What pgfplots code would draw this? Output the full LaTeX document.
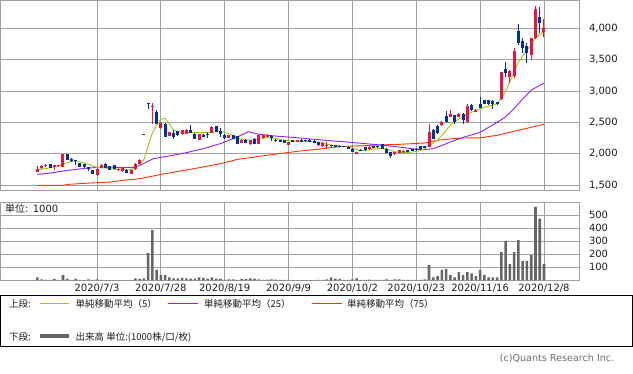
\documentclass[border=0pt]{standalone}
\usepackage{fontspec}
\setmainfont{DejaVu Sans}
\newfontfamily\jp{Noto Sans CJK JP}
\usepackage{pgfplots}
\usepackage{pgfplotstable}
\pgfplotsset{compat=1.18}
\definecolor{cred}{RGB}{235,20,65}
\definecolor{cblue}{RGB}{0,51,153}
\definecolor{maf}{RGB}{153,204,0}
\definecolor{mam}{RGB}{150,30,240}
\definecolor{mas}{RGB}{255,51,0}
\definecolor{volc}{RGB}{102,102,102}
\definecolor{gridc}{RGB}{160,160,160}
\definecolor{txtc}{RGB}{30,30,30}
\definecolor{copyc}{RGB}{110,110,110}

% up candles (close >= open): index open high low close
\pgfplotstableread{
i O H L C
0 1710 1810 1700 1755
1 1776 1815 1760 1802
2 1803 1830 1795 1818
4 1786 1820 1733 1813
5 1798 1815 1790 1812
6 1786 1995 1780 1989
14 1653 1765 1650 1760
15 1770 1830 1765 1824
19 1733 1770 1725 1760
20 1722 1775 1715 1770
22 1680 1740 1670 1738
23 1750 1850 1745 1835
24 1840 1915 1835 1905
27 2740 2816 2480 2756
29 2410 2500 2400 2496
31 2280 2350 2275 2346
34 2309 2380 2300 2373
35 2320 2390 2315 2384
38 2224 2320 2220 2309
41 2330 2440 2325 2426
45 2256 2300 2250 2293
48 2170 2230 2165 2224
50 2149 2220 2140 2213
52 2160 2305 2155 2298
53 2256 2300 2250 2293
54 2266 2310 2260 2304
59 2144 2190 2140 2186
61 2186 2220 2180 2213
67 2117 2180 2110 2170
68 2120 2187 2080 2140
75 2000 2030 1990 2026
78 2070 2115 2065 2106
84 1990 2030 1985 2026
85 2010 2060 2005 2053
86 2020 2065 2010 2048
92 2106 2480 2100 2346
95 2453 2520 2440 2506
97 2586 2690 2580 2640
99 2586 2650 2580 2640
101 2506 2790 2490 2757
103 2666 2720 2660 2704
109 2870 3310 2860 3300
111 3226 3330 3120 3317
112 3237 3690 3200 3642
116 3573 3850 3493 3840
117 3840 4357 3830 4304
119 3946 4144 3856 4000
}\upc

% down candles (close < open)
\pgfplotstableread{
i O H L C
3 1829 1835 1765 1770
7 1989 2000 1895 1904
8 1920 1925 1870 1877
9 1893 1900 1813 1877
10 1845 1850 1780 1786
11 1835 1840 1770 1786
12 1786 1790 1730 1750
13 1733 1745 1670 1680
16 1840 1850 1770 1776
17 1797 1800 1735 1744
18 1813 1815 1750 1760
21 1744 1760 1685 1696
25 2318 2318 2302 2302
26 2808 2808 2720 2792
28 2666 2690 2470 2480
30 2480 2490 2260 2266
32 2330 2373 2240 2266
33 2357 2365 2285 2293
36 2373 2453 2325 2330
37 2320 2325 2230 2240
39 2304 2310 2260 2266
40 2320 2346 2256 2293
42 2437 2445 2340 2346
43 2357 2410 2266 2320
44 2304 2310 2240 2256
46 2293 2300 2235 2240
47 2277 2285 2150 2160
49 2224 2230 2165 2170
51 2240 2250 2155 2160
55 2277 2304 2203 2250
56 2224 2230 2186 2203
57 2213 2220 2180 2192
58 2213 2220 2165 2170
60 2213 2220 2180 2186
62 2224 2235 2180 2186
63 2213 2220 2190 2197
64 2224 2230 2180 2186
65 2203 2210 2165 2170
66 2186 2190 2125 2133
69 2133 2140 2110 2117
70 2133 2140 2100 2106
71 2128 2135 2100 2106
72 2122 2125 2105 2108
73 2106 2115 2075 2080
74 2080 2090 2020 2027
76 2064 2070 2035 2043
77 2106 2110 2050 2053
79 2123 2130 2090 2096
80 2120 2125 2095 2100
81 2150 2155 2075 2080
82 2080 2085 2010 2016
83 2026 2030 1935 1957
87 2053 2060 2020 2026
88 2070 2075 2040 2043
89 2080 2085 2050 2053
90 2117 2120 2065 2070
91 2117 2120 2090 2096
93 2373 2390 2230 2240
94 2437 2450 2320 2330
96 2597 2680 2500 2506
98 2613 2620 2480 2506
100 2640 2650 2480 2544
102 2773 2790 2680 2693
104 2789 2906 2730 2736
105 2853 2860 2790 2800
106 2853 2860 2770 2800
107 2842 2850 2720 2789
108 2826 2830 2780 2789
110 3349 3466 3226 3290
113 3962 4069 3733 3760
114 3792 3840 3600 3680
115 3717 3760 3440 3600
118 4186 4336 3920 4080
}\dnc

\pgfplotstableread{
i v
0 23
1 8
2 3
3 3
4 10
5 3
6 39
7 10
8 3
9 10
10 3
11 2
12 8
13 3
14 8
15 3
16 2
17 2
18 2
19 2
20 2
21 2
22 3
23 15
24 10
25 15
26 209
27 385
28 80
29 39
30 39
31 23
32 15
33 15
34 18
35 15
36 13
37 13
38 23
39 18
40 13
41 23
42 13
43 10
44 3
45 8
46 8
47 3
48 10
49 10
50 15
51 10
52 8
53 3
54 5
55 8
56 5
57 3
58 3
59 2
60 2
61 2
62 2
63 2
64 2
65 2
66 3
67 3
68 8
69 23
70 13
71 10
72 3
73 3
74 8
75 15
76 3
77 3
78 5
79 3
80 3
81 3
82 8
83 3
84 8
85 8
86 3
87 3
88 3
89 3
90 3
91 8
92 118
93 23
94 33
95 80
96 88
97 39
98 23
99 62
100 41
101 62
102 54
103 33
104 80
105 41
106 23
107 23
108 23
109 219
110 304
111 124
112 219
113 309
114 149
115 149
116 196
117 564
118 474
119 124
}\vol

\pgfplotstableread{
i m
0 1744
2 1762
4 1790
6 1830
8 1878
9.5 1880
11.5 1840
14 1780
16 1770
18 1752
20 1740
22 1745
23 1770
24 1830
25 1900
26 2120
27 2330
28 2460
29 2550
30 2560
31 2470
32 2373
34 2336
36.5 2336
41 2336
43 2357
45 2320
47.5 2240
50 2213
52 2230
54 2256
56 2240
58 2213
60 2200
62 2200
64 2195
66 2185
68 2150
70 2130
72 2115
74 2090
76 2050
78 2060
80 2085
82 2075
84 2030
86 2015
88 2025
90 2050
91 2080
92 2130
93 2170
94 2220
95 2290
96 2370
97 2450
98 2510
99 2550
100 2590
101 2630
102 2660
103 2690
104 2715
105 2740
106 2760
107 2775
108 2800
109 2880
110 3000
111 3150
112 3300
113 3460
114 3560
115 3650
116 3740
117 3850
118 3900
119 3950
}\mafive

\pgfplotstableread{
i m
0 1669
3 1690
7 1733
11 1765
15 1786
19.4 1780
22.5 1778
24.1 1813
27.2 1920
30.4 1957
35 2016
39 2080
43 2160
47 2266
49.5 2350
52 2309
56 2280
60 2260
64 2235
68 2210
72 2190
77 2160
81 2135
85 2106
89 2070
91 2064
93 2080
95 2130
97 2186
100 2260
102 2300
104 2340
106 2420
108 2500
110 2586
112 2720
113 2800
115 2940
116 3013
118 3090
119 3125
}\matwf

\pgfplotstableread{
i m
0 1493
6 1493
7 1509
12 1530
17 1546
20 1573
24 1600
26 1626
29 1669
33.5 1722
38 1776
43 1840
47 1909
50 1936
54 1975
58 2010
62 2045
66 2070
69 2100
73 2118
77 2128
81 2140
85 2149
91 2170
94 2213
97 2235
100 2250
104 2252
108 2293
111 2340
113 2373
116 2420
119 2470
}\masvf

\pgfplotsset{
  chartbase/.style={
    scale only axis, width=579.3pt,
    xmin=-8.79, xmax=127.3,
    xtick={14,29,44,59,74,89,104,119},
    grid=major,
    major grid style={draw=gridc, line width=0.9pt},
    axis line style={draw=gridc, line width=0.9pt},
    major tick length=0pt,
    yticklabel pos=right,
    tick label style={font=\fontsize{10}{12}\selectfont, text=txtc},
    yticklabel style={anchor=west, inner sep=0pt, xshift=9.5pt},
    /pgf/number format/1000 sep={,},
    /pgf/number format/assume math mode=true,
  },
  candle/.style={mark=none, draw=none, error bars/.cd, y dir=plus, y explicit, error mark=none,
    error bar style={draw=#1}},
}

\begin{document}
\begin{tikzpicture}
\useasboundingbox (0,0) rectangle (633pt,-374pt);
\fill[white] (0,0) rectangle (633pt,-374pt);

% ---------- price panel ----------
\begin{axis}[chartbase,
  at={(0pt,-0.5pt)}, anchor=north west, height=190.2pt,
  ymin=1409, ymax=4443.5,
  ytick={1500,2000,2500,3000,3500,4000},
  xticklabels={},
]
\addplot[mas, line width=0.9pt, mark=none] table[x=i,y=m]{\masvf};
\addplot[mam, line width=0.9pt, mark=none] table[x=i,y=m]{\matwf};
\addplot[maf, line width=0.9pt, mark=none] table[x=i,y=m]{\mafive};
% wicks
\addplot[candle={cred, line width=1pt}]
  table[x=i, y=L, y error expr=\thisrow{H}-\thisrow{L}]{\upc};
\addplot[candle={cblue, line width=1pt}]
  table[x=i, y=L, y error expr=\thisrow{H}-\thisrow{L}]{\dnc};
% bodies
\addplot[candle={cred, line width=3pt}]
  table[x=i, y=O, y error expr=\thisrow{C}-\thisrow{O}]{\upc};
\addplot[candle={cblue, line width=3pt}]
  table[x=i, y=C, y error expr=\thisrow{O}-\thisrow{C}]{\dnc};
\end{axis}

% ---------- volume panel ----------
\begin{axis}[chartbase,
  at={(0pt,-202pt)}, anchor=north west, height=78.3pt,
  ymin=0, ymax=602,
  ytick={100,200,300,400,500},
  xticklabels={2020/7/3,2020/7/28,2020/8/19,2020/9/9,2020/10/2,2020/10/23,2020/11/16,2020/12/8},
  xticklabel style={anchor=base, inner sep=0pt, yshift=-11.6pt},
]
\addplot[ybar, bar width=2.6pt, fill=volc, draw=none] table[x=i,y=v]{\vol};
\end{axis}

\node[anchor=west, inner sep=0pt, text=txtc, font=\fontsize{10}{12}\selectfont] at (5pt,-209pt) {{\jp 単位}: 1000};

% ---------- legend ----------
\draw[black, line width=0.9pt] (0.5pt,-295.5pt) rectangle (632.5pt,-346pt);
\begin{scope}[every node/.style={anchor=west, inner sep=0pt, text=txtc, font=\jp\fontsize{9.5}{11}\selectfont}]
\node at (9pt,-304pt) {上段:};
\draw[maf, line width=1pt] (40pt,-304pt) -- (69pt,-304pt);
\node at (75.5pt,-304pt) {単純移動平均（5）};
\draw[mam, line width=1pt] (167.5pt,-304pt) -- (198pt,-304pt);
\node at (204pt,-304pt) {単純移動平均（25）};
\draw[mas, line width=1pt] (312pt,-304pt) -- (342pt,-304pt);
\node at (347pt,-304pt) {単純移動平均（75）};
\node at (9pt,-337pt) {下段:};
\draw[volc, line width=4pt] (40pt,-336.5pt) -- (69pt,-336.5pt);
\node at (75.5pt,-337pt) {出来高 単位:(1000株/口/枚)};
\end{scope}
\node[anchor=east, inner sep=0pt, text=copyc, font=\fontsize{9.6}{11}\selectfont] at (614.5pt,-358pt) {(c)Quants Research Inc.};
\end{tikzpicture}
\end{document}
